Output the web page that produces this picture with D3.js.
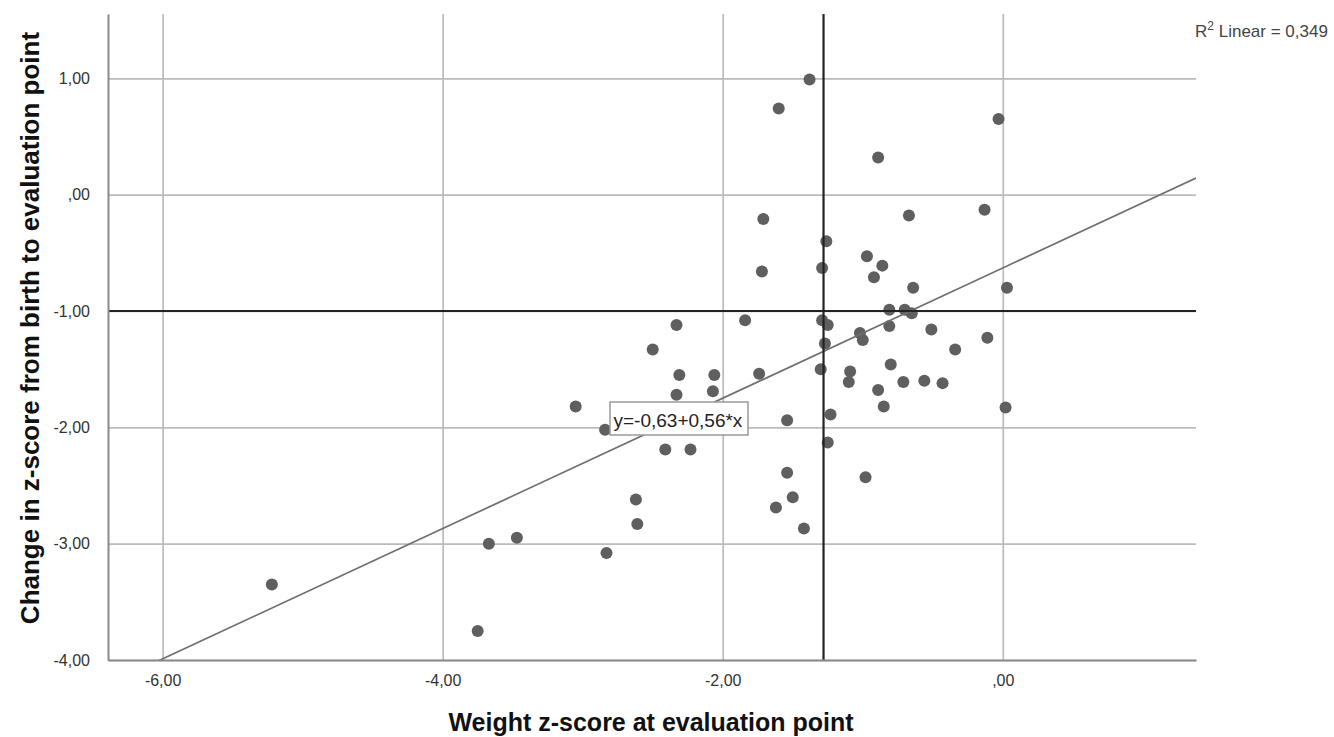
<!DOCTYPE html>
<html>
<head>
<meta charset="utf-8">
<script src="https://cdn.jsdelivr.net/npm/d3@7"></script>
<style>
  body { margin: 0; background: #fff; }
  text { font-family: Arial, "Liberation Sans", sans-serif; }
</style>
</head>
<body>
<script>
// weight z-score at evaluation point (x) and change in z-score (y)
const xValues = [-5.22, -3.75, -3.67, -3.47, -3.05, -2.84, -2.83, -2.62, -2.61, -2.50,
  -2.41, -2.33, -2.33, -2.31, -2.23, -2.07, -2.06, -1.84, -1.74, -1.72,
  -1.71, -1.62, -1.60, -1.54, -1.54, -1.50, -1.42, -1.38, -1.29, -1.29,
  -1.30, -1.27, -1.26, -1.25, -1.25, -1.23, -1.09, -1.10, -1.02, -1.00,
  -0.98, -0.97, -0.92, -0.89, -0.89, -0.86, -0.85, -0.81, -0.81, -0.80,
  -0.71, -0.70, -0.67, -0.65, -0.64, -0.56, -0.51, -0.43, -0.34, -0.13,
  -0.11, -0.03, 0.03, 0.02];
const yValues = [-3.35, -3.75, -3.00, -2.95, -1.82, -2.02, -3.08, -2.62, -2.83, -1.33,
  -2.19, -1.12, -1.72, -1.55, -2.19, -1.69, -1.55, -1.08, -1.54, -0.66,
  -0.21, -2.69, 0.74, -1.94, -2.39, -2.60, -2.87, 0.99, -0.63, -1.08,
  -1.50, -1.28, -0.40, -1.12, -2.13, -1.89, -1.52, -1.61, -1.19, -1.25,
  -2.43, -0.53, -0.71, 0.32, -1.68, -0.61, -1.82, -0.99, -1.13, -1.46,
  -1.61, -0.99, -0.18, -1.02, -0.80, -1.60, -1.16, -1.62, -1.33, -0.13,
  -1.23, 0.65, -0.80, -1.83];

const xTicks = [-6, -4, -2, 0];
const yTicks = [1, 0, -1, -2, -3, -4];
const xDomain = [-6.39, 1.38];
const yDomain = [-4, 1.553];

// reference lines and linear fit
const refX = -1.28;
const refY = -1;
const fitIntercept = -0.63;
const fitSlope = 0.56;
const r2Value = 0.349;

const xTitle = 'Weight z-score at evaluation point';
const yTitle = 'Change in z-score from birth to evaluation point';

const W = 1334, H = 737;
const margin = { top: 14, right: 138, bottom: 77, left: 108 };
const width = W - margin.left - margin.right;
const height = H - margin.top - margin.bottom;

// comma decimals, plain hyphen minus, no leading zero (",00")
const locale = d3.formatLocale({ decimal: ',', thousands: '.', grouping: [3], currency: ['', ''], minus: '-' });
const f2 = locale.format('.2f');
const tickFmt = d => f2(d).replace(/^0,/, ',');

const svg = d3.select('body').append('svg')
  .attr('width', W)
  .attr('height', H);

const g = svg.append('g')
  .attr('transform', `translate(${margin.left},${margin.top})`);

const x = d3.scaleLinear().domain(xDomain).range([0, width]);
const y = d3.scaleLinear().domain(yDomain).range([height, 0]);

g.append('clipPath').attr('id', 'plot-clip')
  .append('rect').attr('width', width).attr('height', height);

// grid
g.append('g')
  .attr('transform', `translate(0,${height})`)
  .call(d3.axisBottom(x).tickValues(xTicks).tickSize(-height).tickFormat(''))
  .call(s => s.select('.domain').remove())
  .selectAll('line').attr('stroke', '#bbbbbb').attr('stroke-width', 1.7);

g.append('g')
  .call(d3.axisLeft(y).tickValues(yTicks).tickSize(-width).tickFormat(''))
  .call(s => s.select('.domain').remove())
  .selectAll('line').attr('stroke', '#bbbbbb').attr('stroke-width', 1.7);

// points
g.append('g')
  .selectAll('circle')
  .data(xValues.map((v, i) => [v, yValues[i]]))
  .enter()
  .append('circle')
  .attr('cx', d => x(d[0]))
  .attr('cy', d => y(d[1]))
  .attr('r', 6)
  .attr('fill', '#5f5f5f');

// fit line
g.append('line')
  .attr('clip-path', 'url(#plot-clip)')
  .attr('x1', x(xDomain[0]))
  .attr('y1', y(fitIntercept + fitSlope * xDomain[0]))
  .attr('x2', x(xDomain[1]))
  .attr('y2', y(fitIntercept + fitSlope * xDomain[1]))
  .attr('stroke', '#6f6f6f')
  .attr('stroke-width', 1.7);

// reference lines
g.append('line')
  .attr('x1', 0).attr('x2', width)
  .attr('y1', y(refY)).attr('y2', y(refY))
  .attr('stroke', '#222').attr('stroke-width', 2.2);

g.append('line')
  .attr('x1', x(refX)).attr('x2', x(refX))
  .attr('y1', 0).attr('y2', height)
  .attr('stroke', '#222').attr('stroke-width', 2.2);

// axes
const xAxis = g.append('g')
  .attr('transform', `translate(0,${height})`)
  .call(d3.axisBottom(x).tickValues(xTicks).tickSizeInner(0).tickSizeOuter(0).tickPadding(15).tickFormat(tickFmt));

const yAxis = g.append('g')
  .call(d3.axisLeft(y).tickValues(yTicks).tickSizeInner(0).tickSizeOuter(0).tickPadding(18).tickFormat(tickFmt));

[xAxis, yAxis].forEach(a => {
  a.select('.domain').attr('stroke', '#8a8a8a').attr('stroke-width', 2);
  a.selectAll('text')
    .attr('font-size', 16)
    .attr('fill', '#333')
    .style('font-family', 'Arial, "Liberation Sans", sans-serif');
});

// equation label
const eqText = `y=${f2(fitIntercept)}+${f2(fitSlope)}*x`;
svg.append('rect')
  .attr('x', 610).attr('y', 402)
  .attr('width', 138).attr('height', 33)
  .attr('fill', '#fff')
  .attr('stroke', '#9a9a9a')
  .attr('stroke-width', 1.5);
svg.append('text')
  .attr('x', 613.5).attr('y', 427)
  .attr('font-size', 19)
  .attr('fill', '#222')
  .text(eqText);

// R squared
const r2 = svg.append('text')
  .attr('x', 1195).attr('y', 37)
  .attr('font-size', 17)
  .attr('fill', '#444');
r2.append('tspan').text('R');
r2.append('tspan').attr('dy', -7).attr('font-size', 12).text('2');
r2.append('tspan').attr('dy', 7).text(' Linear = ' + locale.format('.3f')(r2Value));

// axis titles
svg.append('text')
  .attr('x', margin.left + width / 2 - 1)
  .attr('y', 731)
  .attr('text-anchor', 'middle')
  .attr('font-size', 25)
  .attr('font-weight', 'bold')
  .attr('fill', '#111')
  .text(xTitle);

svg.append('text')
  .attr('transform', 'rotate(-90)')
  .attr('x', -328)
  .attr('y', 39)
  .attr('text-anchor', 'middle')
  .attr('font-size', 26)
  .attr('font-weight', 'bold')
  .attr('fill', '#111')
  .text(yTitle);
</script>
</body>
</html>
